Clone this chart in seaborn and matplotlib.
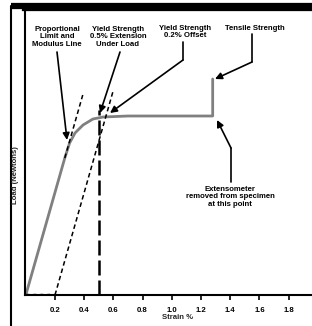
import matplotlib
matplotlib.use("Agg")
import matplotlib.pyplot as plt
from matplotlib.lines import Line2D
import seaborn as sns
import pandas as pd

# ---- data ----
strain = [0.0, 0.267, 0.30, 0.337, 0.392, 0.46, 0.53, 0.70, 0.90, 1.10, 1.28, 1.28]
stress = [0, 137, 152, 162, 170, 176, 178, 179, 179, 179, 179, 216]
modulus_x = [0.267, 0.39]
modulus_y = [137, 200]
offset_x = [0.2, 0.60]
offset_y = [0, 205]
ext_x = [0.5, 0.5]
ext_y = [0, 185]
base_x = [0.0, 0.2]
base_y = [1.5, 1.5]
xticks = [0.2, 0.4, 0.6, 0.8, 1.0, 1.2, 1.4, 1.6, 1.8]
xticklabels = ["0.2", "0.4", "0.6", "0.8", "1.0", "1.2", "1.4", "1.6", "1.8"]

sns.set_style("white")
plt.rcParams["font.family"] = ["Liberation Sans Narrow", "Liberation Sans", "DejaVu Sans"]

W, H = 312, 326
fig = plt.figure(figsize=(W / 100, H / 100), dpi=100)

X0 = 25.8      # px of strain 0
SX = 146.0     # px per 1.0 strain
YB = 295.0     # px of stress 0
YT = 8.0       # top of axes in px
xmax = (330 - X0) / SX
left = 24.5 / W
ax = fig.add_axes([left, (H - YB) / H, (330 - 24.5) / W, (YB - YT) / H])
xmin = (24.5 - X0) / SX
ax.set_xlim(xmin, xmax)
ax.set_ylim(0, YB - YT)

df = pd.DataFrame({"strain": strain, "stress": stress})
sns.lineplot(data=df, x="strain", y="stress", sort=False, estimator=None,
             color="#808080", lw=2.0, ax=ax)

ax.plot(modulus_x, modulus_y, color="black", lw=1.1, dashes=(3, 2))
ax.plot(offset_x, offset_y, color="black", lw=1.1, dashes=(3, 2))
ax.plot(ext_x, ext_y, color="black", lw=1.8, dashes=(6, 2))
ax.plot(base_x, base_y, color="black", lw=1.0, dashes=(2, 3))


def d(px, py):
    return ((px - X0) / SX, YB - py)


fs = 5.6
tk = dict(ha="center", va="center", fontsize=fs, fontweight="bold",
          linespacing=1.15, color="black")
ap = dict(arrowstyle="-|>", color="black", lw=1.2, mutation_scale=10,
          shrinkA=0, shrinkB=0)

# 1 proportional limit
ax.text(*d(57, 37), "Proportional\nLimit and\nModulus Line", **tk)
ax.annotate("", xy=d(67, 140), xytext=d(57, 52), arrowprops=ap)
# 2 yield 0.5%
ax.text(*d(118, 37), "Yield Strength\n0.5% Extension\nUnder Load", **tk)
ax.annotate("", xy=d(100, 113), xytext=d(120, 52), arrowprops=ap)
# 3 yield 0.2%
ax.text(*d(185, 32), "Yield Strength\n0.2% Offset", **tk)
ax.plot(*zip(d(183, 42), d(183, 60)), color="black", lw=1.2)
ax.annotate("", xy=d(110, 113), xytext=d(183, 60), arrowprops=ap)
# 4 tensile
ax.text(*d(255, 28), "Tensile Strength", **tk)
ax.plot(*zip(d(252, 34), d(252, 62)), color="black", lw=1.2)
ax.annotate("", xy=d(215, 79), xytext=d(252, 62), arrowprops=ap)
# 5 extensometer
ax.text(*d(230, 197), "Extensometer\nremoved from specimen\nat this point", **tk)
ax.plot(*zip(d(231, 182), d(231, 148)), color="black", lw=1.2)
ax.annotate("", xy=d(217, 120), xytext=d(231, 148), arrowprops=ap)

# axes styling
ax.spines["right"].set_visible(False)
ax.spines["top"].set_linewidth(4.5)
ax.spines["top"].set_color("black")
ax.spines["left"].set_linewidth(1.5)
ax.spines["left"].set_color("black")
ax.spines["bottom"].set_linewidth(1.5)
ax.spines["bottom"].set_color("black")
ax.set_yticks([])
ax.set_xticks(xticks)
ax.set_xticklabels(xticklabels, fontsize=fs, fontweight="bold")
ax.tick_params(axis="x", direction="out", length=3.5, width=1.2, pad=5,
               bottom=True, colors="black")
ax.set_xlabel("Strain %", fontsize=fs, fontweight="bold", labelpad=0)
ax.set_ylabel("")

# outer frame line on the left and y label
fig.add_artist(Line2D([11 / W, 11 / W], [0, 1 - 6 / H], color="black", lw=1.5,
                      transform=fig.transFigure))
fig.add_artist(Line2D([11 / W, 1], [1 - 6 / H, 1 - 6 / H], color="black", lw=4.5,
                      solid_capstyle="butt", transform=fig.transFigure))
fig.text(15.5 / W, 1 - 175 / H, "Load (Newtons)", rotation=90, ha="center",
         va="center", fontsize=fs, fontweight="bold")

fig.savefig("out.png", dpi=100)
